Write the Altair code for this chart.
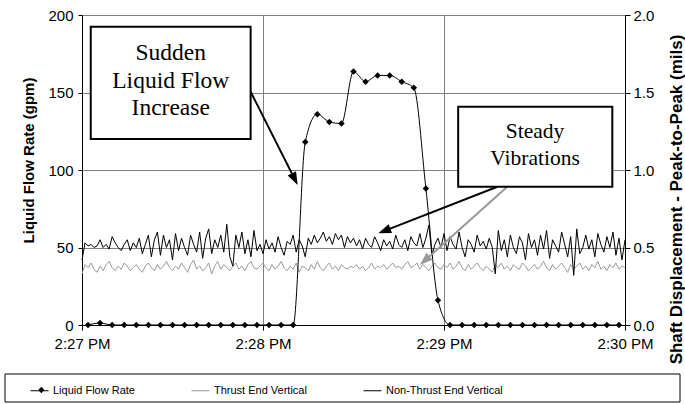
import math
import altair as alt
import pandas as pd

# ---------------- data ----------------
# Liquid flow rate samples (seconds after 2:27:00 PM, gpm)
flow_sec = [2, 6, 10, 14, 18, 22, 26, 30, 34, 38, 42, 46, 50, 54, 58, 62, 66, 70,
            74, 78, 82, 86, 90, 94, 98, 102, 106, 110, 114, 118,
            122, 126, 130, 134, 138, 142, 146, 150, 154, 158, 162, 166, 170, 174, 178]
flow_gpm = [0, 1.3, 0, 0, 0, 0, 0, 0, 0, 0, 0, 0, 0, 0, 0, 0, 0, 0,
            118, 136, 131, 130, 163.5, 157, 161, 161, 157, 153, 88, 16,
            0, 0, 0, 0, 0, 0, 0, 0, 0, 0, 0, 0, 0, 0, 0]

# Vibration samples, one per second from 2:27:00 to 2:30:00 (mils)
vib_sec = list(range(0, 181))
nonthrust_mils = [
    0.42,
    0.53, 0.51, 0.52, 0.50, 0.51, 0.55, 0.50, 0.52, 0.49, 0.57, 0.53, 0.50, 0.48, 0.52, 0.55,
    0.48, 0.53, 0.50, 0.56, 0.46, 0.52, 0.58, 0.44, 0.55, 0.60, 0.45, 0.58, 0.50, 0.55, 0.42,
    0.59, 0.48, 0.56, 0.50, 0.45, 0.58, 0.52, 0.47, 0.60, 0.43, 0.56, 0.62, 0.46, 0.55, 0.50,
    0.58, 0.47, 0.65, 0.44, 0.38, 0.58, 0.50, 0.60, 0.46, 0.55, 0.44, 0.61, 0.48, 0.52, 0.46,
    0.55, 0.49, 0.53, 0.47, 0.57, 0.50, 0.45, 0.54, 0.52, 0.58, 0.47, 0.55, 0.51, 0.44, 0.56,
    0.52, 0.58, 0.53, 0.56, 0.60, 0.54, 0.57, 0.52, 0.59, 0.55, 0.58, 0.50, 0.57, 0.53, 0.56,
    0.51, 0.55, 0.49, 0.56, 0.52, 0.50, 0.57, 0.53, 0.48, 0.55, 0.51, 0.54, 0.49, 0.58, 0.52,
    0.50, 0.55, 0.48, 0.57, 0.53, 0.51, 0.59, 0.50, 0.56, 0.645, 0.45, 0.52, 0.56, 0.50, 0.59,
    0.48, 0.57, 0.52, 0.49, 0.60, 0.50, 0.44, 0.55, 0.52, 0.47, 0.58, 0.51, 0.54, 0.49, 0.56,
    0.50, 0.33, 0.61, 0.48, 0.55, 0.44, 0.58, 0.50, 0.46, 0.57, 0.53, 0.42, 0.59, 0.50, 0.55,
    0.45, 0.58, 0.49, 0.61, 0.43, 0.55, 0.51, 0.47, 0.60, 0.52, 0.44, 0.57, 0.32, 0.62, 0.46,
    0.50, 0.58, 0.49, 0.55, 0.44, 0.59, 0.52, 0.47, 0.57, 0.50, 0.60, 0.45, 0.56, 0.42, 0.55,
]
thrust_mils = [
    0.33, 0.39, 0.37, 0.40, 0.36, 0.34, 0.38, 0.35, 0.39, 0.41, 0.37, 0.35, 0.38, 0.36, 0.40,
    0.38, 0.35, 0.37, 0.39, 0.36, 0.34, 0.38, 0.40, 0.37, 0.35, 0.39, 0.36, 0.38, 0.41, 0.37,
    0.35, 0.38, 0.36, 0.40, 0.37, 0.34, 0.39, 0.42, 0.36, 0.38, 0.35, 0.37, 0.40, 0.33, 0.38,
    0.41, 0.36, 0.39, 0.37, 0.35, 0.38, 0.40, 0.36, 0.38, 0.35, 0.39, 0.41, 0.37, 0.36, 0.38,
    0.40, 0.37, 0.35, 0.39, 0.36, 0.38, 0.41, 0.37, 0.35, 0.38, 0.36, 0.40, 0.34, 0.38, 0.37,
    0.35, 0.39, 0.36, 0.41, 0.37, 0.35, 0.38, 0.40, 0.36, 0.38, 0.35, 0.39, 0.37, 0.36, 0.38,
    0.37, 0.39, 0.36, 0.38, 0.35, 0.37, 0.40, 0.36, 0.38, 0.37, 0.39, 0.36, 0.38, 0.40, 0.37,
    0.38, 0.36, 0.39, 0.41, 0.37, 0.38, 0.40, 0.36, 0.39, 0.37, 0.35, 0.38, 0.40, 0.37, 0.36,
    0.39, 0.37, 0.40, 0.36, 0.38, 0.41, 0.37, 0.35, 0.39, 0.36, 0.38, 0.40, 0.37, 0.35, 0.38,
    0.36, 0.34, 0.39, 0.37, 0.40, 0.36, 0.38, 0.35, 0.39, 0.37, 0.36, 0.40, 0.38, 0.35, 0.37,
    0.39, 0.36, 0.38, 0.41, 0.37, 0.35, 0.39, 0.36, 0.38, 0.40, 0.37, 0.34, 0.39, 0.36, 0.38,
    0.40, 0.36, 0.38, 0.35, 0.39, 0.37, 0.41, 0.36, 0.38, 0.35, 0.39, 0.37, 0.40, 0.36, 0.38, 0.37,
]

series_names = ["Liquid Flow Rate", "Thrust End Vertical", "Non-Thrust End Vertical"]
series_colors = ["#000000", "#999999", "#000000"]

x_ticks = [0, 60, 120, 180]
x_tick_labels = ["2:27 PM", "2:28 PM", "2:29 PM", "2:30 PM"]
left_ticks = [0, 50, 100, 150, 200]
right_ticks = [0, 0.5, 1.0, 1.5, 2.0]

# Annotation callouts (data coordinates: seconds, gpm)
box_text = ["Sudden\nLiquid Flow\nIncrease", "Steady\nVibrations"]
box_x1 = [2.9, 124.7]
box_x2 = [55.9, 175.8]
box_y1 = [120.0, 89.2]
box_y2 = [192.5, 140.8]
box_tx = [29.4, 150.2]
box_ty = [175.3, 124.7]       # centre of first text line
box_fs = [23.5, 21.5]

arrow_x1 = [55.9, 137.5, 140.8]
arrow_y1 = [150.5, 89.0, 88.8]
arrow_x2 = [71.5, 98.2, 112.0]
arrow_y2 = [90.3, 59.2, 38.7]
arrow_kind = ["black", "black", "gray"]

# ---------------- layout ----------------
W, H = 543, 310
PAD = {"left": 82, "top": 15, "right": 60, "bottom": 79}
FONT = "Liberation Sans"
SERIF = "Liberation Serif"
GRID = "#808080"
sx = W / 180.0
sy = H / 200.0

flow_df = pd.DataFrame({"sec": flow_sec, "val": flow_gpm, "series": series_names[0]})
vib_df = pd.concat([
    pd.DataFrame({"sec": vib_sec, "val": thrust_mils, "series": series_names[1]}),
    pd.DataFrame({"sec": vib_sec, "val": nonthrust_mils, "series": series_names[2]}),
], ignore_index=True)

rows = []
for a, b, c, d, k in zip(arrow_x1, arrow_y1, arrow_x2, arrow_y2, arrow_kind):
    dxp = (c - a) * sx
    dyp = -(d - b) * sy
    L = math.hypot(dxp, dyp)
    ang = math.degrees(math.atan2(dxp, -dyp)) % 360
    back = 8.0
    cs = c - dxp / L * back / sx
    ds = d + dyp / L * back / sy
    rows.append({"x1": a, "y1": b, "x2": cs, "y2": ds, "tx": c, "ty": d,
                 "ang": ang, "kind": k})
arrow_df = pd.DataFrame(rows)

box_df = pd.DataFrame({"x1": box_x1, "x2": box_x2, "y1": box_y1, "y2": box_y2,
                       "tx": box_tx, "ty": box_ty, "text": box_text, "fs": box_fs})

label_expr = " : ".join(
    f"datum.value == {v} ? '{t}'" for v, t in zip(x_ticks, x_tick_labels)
) + " : ''"

x_scale = alt.Scale(domain=[0, 180], nice=False, zero=False)
x_axis = alt.Axis(
    values=x_ticks, labelExpr=label_expr, title=None,
    grid=True, gridColor=GRID, gridWidth=1,
    domainColor="black", tickColor="black", tickSize=5,
    labelFont=FONT, labelFontSize=15, labelColor="black", labelPadding=6,
    labelFlush=False,
)
y_left_scale = alt.Scale(domain=[0, 200], nice=False, zero=True)
y_left_axis = alt.Axis(
    orient="left", values=left_ticks, title="Liquid Flow Rate (gpm)",
    grid=True, gridColor=GRID, gridWidth=1,
    domainColor="black", tickColor="black", tickSize=4,
    labelFont=FONT, labelFontSize=15, labelColor="black", labelPadding=5,
    titleFont=FONT, titleFontSize=15, titleFontWeight="bold", titleColor="black",
    titleAngle=270, titleX=-49, titleY=145, titleAlign="center",
    titleBaseline="alphabetic",
)
x_enc = alt.X("sec:Q", scale=x_scale, axis=x_axis)
y_left = alt.Y("val:Q", scale=y_left_scale, axis=y_left_axis)
y_right = alt.Y(
    "val:Q", scale=alt.Scale(domain=[0, 2], nice=False, zero=True),
    axis=alt.Axis(
        orient="right", values=right_ticks, format=".1f",
        title="Shaft Displacement - Peak-to-Peak (mils)",
        grid=False, domainColor="black", tickColor="black", tickSize=5,
        labelFont=FONT, labelFontSize=15, labelColor="black", labelPadding=3,
        titleFont=FONT, titleFontSize=17, titleFontWeight="bold", titleColor="black",
        titleAngle=270, titleX=56, titleY=184, titleAlign="center",
        titleBaseline="alphabetic",
    ),
)

LEG_X, LEG_Y = -52, 366
legend_lines = alt.Legend(
    title=None, orient="none", legendX=LEG_X, legendY=LEG_Y, direction="horizontal",
    labelFont=FONT, labelFontSize=11, labelColor="black", labelOffset=4,
    symbolType="M-1,0H1", symbolSize=324, symbolStrokeWidth=1,
    columnPadding=54, padding=0,
)
color_enc = alt.Color("series:N", scale=alt.Scale(domain=series_names, range=series_colors),
                      legend=legend_lines)

# diamond marker for the first legend entry (separate one-entry legend, no label)
legend_diamond = alt.Legend(
    title=None, orient="none", legendX=LEG_X + 9 - math.sqrt(40) / 2, legendY=LEG_Y + 3.5,
    direction="horizontal", labelFont=FONT, labelFontSize=11, labelExpr="''",
    symbolSize=40, symbolFillColor="black", symbolStrokeColor="black",
    symbolStrokeWidth=0, symbolOpacity=1, padding=0,
)

# vibration lines (right axis)
vib_layer = alt.Chart(vib_df).mark_line(strokeWidth=1).encode(
    x=x_enc, y=y_right, color=color_enc, detail="series:N",
    order=alt.Order("sec:Q"),
)

# flow line + markers (left axis)
flow_line = alt.Chart(flow_df).mark_line(strokeWidth=1, interpolate="monotone").encode(
    x=x_enc, y=y_left, color=color_enc)
flow_pts = alt.Chart(flow_df).mark_point(filled=True, size=42, opacity=1,
                                         color="black").encode(
    x=x_enc, y=y_left,
    shape=alt.Shape("series:N", scale=alt.Scale(domain=[series_names[0]], range=["diamond"]),
                    legend=legend_diamond))

# arrows
arrow_base = alt.Chart(arrow_df)
ax = alt.X("x1:Q", scale=x_scale, axis=x_axis)
ay = alt.Y("y1:Q", scale=y_left_scale, axis=y_left_axis)
hx = alt.X("tx:Q", scale=x_scale, axis=x_axis)
hy = alt.Y("ty:Q", scale=y_left_scale, axis=y_left_axis)
arrow_lines_k = arrow_base.transform_filter("datum.kind == 'black'").mark_rule(
    color="black", strokeWidth=2).encode(x=ax, y=ay, x2="x2:Q", y2="y2:Q")
arrow_lines_g = arrow_base.transform_filter("datum.kind == 'gray'").mark_rule(
    color="#999999", strokeWidth=2).encode(x=ax, y=ay, x2="x2:Q", y2="y2:Q")
HEAD = "M0,0L-0.36,1L0.36,1Z"
arrow_heads_k = arrow_base.transform_filter("datum.kind == 'black'").mark_point(
    shape=HEAD, filled=True, size=676, color="black", opacity=1, strokeWidth=0).encode(
    x=hx, y=hy, angle=alt.Angle("ang:Q", scale=None))
arrow_heads_g = arrow_base.transform_filter("datum.kind == 'gray'").mark_point(
    shape=HEAD, filled=True, size=676, color="#999999", opacity=1, strokeWidth=0).encode(
    x=hx, y=hy, angle=alt.Angle("ang:Q", scale=None))

# callout boxes
boxes = alt.Chart(box_df).mark_rect(fill="white", stroke="black", strokeWidth=2).encode(
    x=ax, x2="x2:Q", y=ay, y2="y2:Q")
box_texts = alt.Chart(box_df).mark_text(font=SERIF, color="black", lineBreak="\n",
                                        align="center", baseline="middle",
                                        lineHeight=27.5).encode(
    x=hx, y=hy, text="text:N", size=alt.Size("fs:Q", scale=None))

# legend frame
legend_box = alt.Chart(pd.DataFrame({"a": [0]})).mark_rect(
    fill="white", stroke="black", strokeWidth=1).encode(
    x=alt.value(-77), x2=alt.value(598), y=alt.value(359), y2=alt.value(387))

gpm_layer = alt.layer(flow_line, flow_pts, arrow_lines_k, arrow_lines_g,
                      arrow_heads_k, arrow_heads_g, boxes, box_texts, legend_box)

chart = alt.layer(vib_layer, gpm_layer).resolve_scale(y="independent").properties(
    width=W, height=H,
    autosize=alt.AutoSizeParams(type="none"),
    padding=PAD,
    background="white",
).configure_view(stroke=None)

chart.save("out.html", embed_options={"renderer": "svg", "actions": False})
